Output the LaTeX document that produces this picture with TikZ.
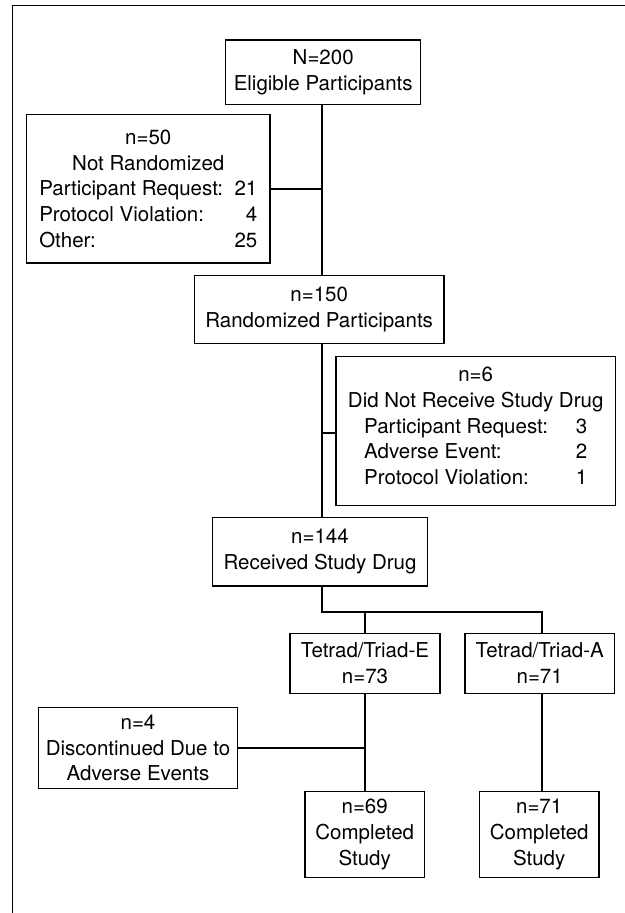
\documentclass[tikz,border=0pt]{standalone}
\usepackage{fontspec}
\setmainfont{TeX Gyre Heros}
\begin{document}
\begin{tikzpicture}[x=1pt,y=-1pt,
  box/.style={draw, line width=1.2pt, align=center, inner sep=0pt,
              font=\fontsize{20.5}{25.8}\selectfont},
  conn/.style={line width=1.8pt},
  frame/.style={line width=1pt}]
\useasboundingbox (0,0) rectangle (624,913);
\draw[frame] (12.7,925) -- (12.7,5.5) -- (640,5.5);

\node[box, minimum width=195pt, minimum height=64.7pt] (b1) at (323.2,72.3)
  {N=200\\Eligible Participants};
\node[box, minimum width=243.3pt, minimum height=148.3pt] (b2) at (148.3,188.8)
  {n=50\\Not Randomized\\
   \makebox[218pt][l]{Participant Request:\hfill 21}\\
   \makebox[218pt][l]{Protocol Violation:\hfill 4}\\
   \makebox[218pt][l]{Other:\hfill 25}};
\node[box, minimum width=249.7pt, minimum height=67.6pt] (b3) at (319.2,309.5)
  {n=150\\Randomized Participants};
\node[box, minimum width=279.3pt, minimum height=149pt] (b4) at (475.7,431.2)
  {n=6\\Did Not Receive Study Drug\\
   \makebox[223pt][l]{Participant Request:\hfill 3}\\
   \makebox[223pt][l]{Adverse Event:\hfill 2}\\
   \makebox[223pt][l]{Protocol Violation:\hfill 1}\\[-15pt]\mbox{}};
\node[box, minimum width=214.6pt, minimum height=68.7pt] (b5) at (320,551.7)
  {n=144\\Received Study Drug};
\node[box, minimum width=150pt, minimum height=60.2pt] (b6) at (365,663.4)
  {Tetrad/Triad-E\\n=73};
\node[box, minimum width=149.3pt, minimum height=60.2pt] (b7) at (539.7,663.4)
  {Tetrad/Triad-A\\n=71};
\node[box, minimum width=198.5pt, minimum height=81.2pt] (b8) at (138,748)
  {n=4\\Discontinued Due to\\Adverse Events};
\node[box, minimum width=119.3pt, minimum height=85.6pt] (b9) at (364.7,834.5)
  {n=69\\Completed\\Study};
\node[box, minimum width=119.7pt, minimum height=85.6pt] (b10) at (539.2,834.5)
  {n=71\\Completed\\Study};

\coordinate (t) at (321.7,0);
\coordinate (ta) at (541.7,0);
\coordinate (bus) at (0,612);
\coordinate (j4) at (321.7,433.3);
\draw[conn] (b1.south -| t) -- (b3.north -| t);
\draw[conn] (b2.east) -- (b2.east -| t);
\draw[conn] (b3.south -| t) -- (b5.north -| t);
\draw[conn] (j4) -- (j4 -| b4.west);
\draw[conn] (b5.south -| t) -- (t |- bus) -- (ta |- bus) -- (b7.north -| ta);
\draw[conn] (b6.north) -- (b6.north |- bus);
\draw[conn] (b6.south) -- (b9.north -| b6.south);
\draw[conn] (b8.east) -- (b8.east -| b6.south);
\draw[conn] (b7.south -| ta) -- (b10.north -| ta);
\end{tikzpicture}
\end{document}
